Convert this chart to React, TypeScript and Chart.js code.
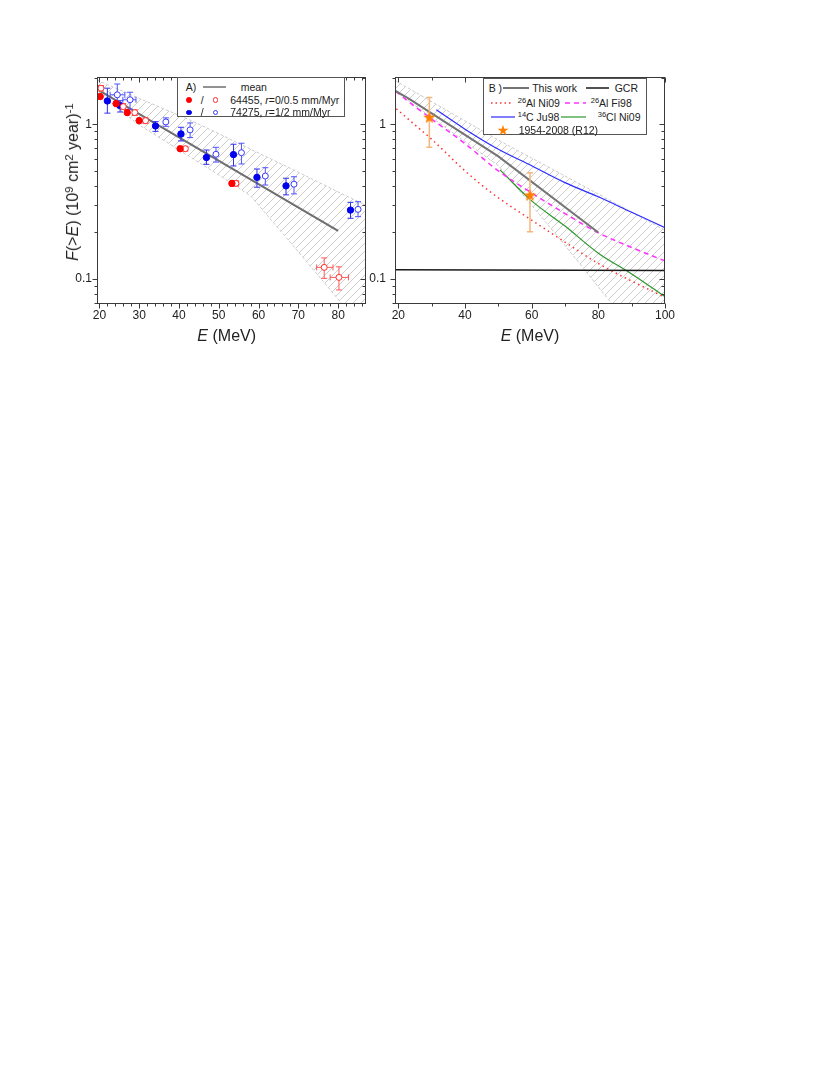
import React, { useEffect, useRef } from "react";
import { Chart, registerables } from "chart.js";
Chart.register(...registerables);

const FONT = "'Liberation Sans', Arial, Helvetica, sans-serif";

// ---------- Panel A data ----------
const A_X_TICKS = [20, 30, 40, 50, 60, 70, 80];
const A_X_MIN = 19.4;
const A_X_MAX = 87;
const Y_TICKS = [0.1, 1];
const Y_TICK_LABELS = ["0.1", "1"];
const Y_MINOR = [0.07, 0.08, 0.09, 0.2, 0.3, 0.4, 0.5, 0.6, 0.7, 0.8, 0.9, 2];
const Y_MIN = 0.069;
const Y_MAX = 2.02;

const A_MEAN_E = [20, 80];
const A_MEAN_F = [1.65, 0.205];

const A_BAND_E = [19.4, 30, 42.6, 50, 58, 70, 81, 87];
const A_BAND_UPPER = [1.93, 1.47, 1.07, 0.87, 0.69, 0.49, 0.355, 0.3];
const A_BAND_LOWER = [1.6, 0.99, 0.62, 0.47, 0.345, 0.15, 0.069, 0.045];

const A_RED_FILLED_E = [20.2, 24.2, 27.0, 30.0, 40.3, 53.3];
const A_RED_FILLED_F = [1.51, 1.36, 1.19, 1.055, 0.695, 0.415];
const A_RED_FILLED_LO = [1.45, 1.3, 1.14, 1.01, 0.67, 0.398];
const A_RED_FILLED_HI = [1.57, 1.42, 1.24, 1.1, 0.72, 0.432];

const A_RED_HOLLOW_E = [20.4, 26.0, 28.9, 31.6, 41.6, 54.3, 76.5, 80.2];
const A_RED_HOLLOW_F = [1.71, 1.3, 1.19, 1.055, 0.695, 0.415, 0.119, 0.1025];
const A_RED_HOLLOW_LO = [1.64, 1.25, 1.14, 1.01, 0.67, 0.398, 0.101, 0.085];
const A_RED_HOLLOW_HI = [1.78, 1.36, 1.24, 1.1, 0.72, 0.432, 0.137, 0.12];
const A_RED_HOLLOW_XLO = [null, null, null, null, null, 53.6, 74.6, 78.0];
const A_RED_HOLLOW_XHI = [null, null, null, null, null, 55.0, 78.7, 82.6];

const A_BLUE_FILLED_E = [22.0, 25.2, 34.1, 40.5, 46.9, 53.7, 59.6, 66.9, 83.1];
const A_BLUE_FILLED_F = [1.415, 1.32, 0.975, 0.866, 0.61, 0.637, 0.454, 0.4, 0.279];
const A_BLUE_FILLED_LO = [1.18, 1.2, 0.9, 0.78, 0.551, 0.538, 0.392, 0.35, 0.247];
const A_BLUE_FILLED_HI = [1.71, 1.42, 1.04, 0.956, 0.682, 0.743, 0.514, 0.448, 0.313];

const A_BLUE_HOLLOW_E = [24.5, 27.7, 36.7, 42.8, 49.3, 55.7, 61.7, 68.9, 85.0];
const A_BLUE_HOLLOW_F = [1.55, 1.44, 1.035, 0.92, 0.64, 0.655, 0.463, 0.41, 0.282];
const A_BLUE_HOLLOW_LO = [1.33, 1.25, 0.97, 0.82, 0.57, 0.554, 0.405, 0.355, 0.253];
const A_BLUE_HOLLOW_HI = [1.82, 1.61, 1.1, 1.02, 0.71, 0.754, 0.524, 0.458, 0.316];
const A_BLUE_HOLLOW_XLO = [22.7, 25.9, null, null, null, null, null, null, null];
const A_BLUE_HOLLOW_XHI = [26.4, 29.2, null, null, null, null, null, null, null];

// ---------- Panel B data ----------
const B_X_TICKS = [20, 40, 60, 80, 100];
const B_X_MINOR = [30, 50, 70, 90];
const B_X_MIN = 19;
const B_X_MAX = 100;

const B_BAND_E = [19, 50, 60, 70, 83, 100];
const B_BAND_UPPER = [1.92, 0.79, 0.605, 0.463, 0.327, 0.207];
const B_BAND_LOWER = [1.64, 0.54, 0.3, 0.165, 0.074, 0.027];

const B_THIS_E = [19, 23.5, 50, 80];
const B_THIS_F = [1.65, 1.45, 0.62, 0.2];

const B_GCR_E = [19, 100];
const B_GCR_F = [0.115, 0.1135];

const B_AL_NI09_E = [19.4, 25, 30, 40, 47.5, 60, 67.5, 80, 100];
const B_AL_NI09_F = [1.26, 0.99, 0.8, 0.5, 0.367, 0.24, 0.188, 0.126, 0.076];

const B_AL_FI98_E = [19.2, 25, 30, 40, 50, 60, 70, 80, 90, 100];
const B_AL_FI98_F = [1.63, 1.3, 1.08, 0.75, 0.5, 0.36, 0.265, 0.199, 0.16, 0.131];

const B_C_JU98_E = [31.4, 40, 50, 60, 70, 80, 90, 100];
const B_C_JU98_F = [1.24, 0.93, 0.69, 0.54, 0.42, 0.34, 0.27, 0.215];

const B_CL_NI09_E = [50.5, 60, 70, 80, 90, 100];
const B_CL_NI09_F = [0.507, 0.32, 0.22, 0.147, 0.108, 0.077];

const B_R12_E = [29.3, 59.5];
const B_R12_F = [1.11, 0.349];
const B_R12_LO = [0.71, 0.202];
const B_R12_HI = [1.49, 0.487];

// ---------- helpers ----------
const pts = (xs: number[], ys: number[]) => xs.map((x, i) => ({ x, y: ys[i] }));

function makeHatch(): CanvasPattern | string {
  const c = document.createElement("canvas");
  c.width = 8;
  c.height = 8;
  const g = c.getContext("2d");
  if (!g) return "rgba(0,0,0,0.1)";
  g.strokeStyle = "#cdcdcd";
  g.lineWidth = 1;
  g.beginPath();
  g.moveTo(0, 8);
  g.lineTo(8, 0);
  g.moveTo(-2, 2);
  g.lineTo(2, -2);
  g.moveTo(6, 10);
  g.lineTo(10, 6);
  g.stroke();
  return g.createPattern(c, "repeat") || "rgba(0,0,0,0.1)";
}

function makeStar(size: number, color: string): HTMLCanvasElement {
  const c = document.createElement("canvas");
  c.width = size;
  c.height = size;
  const g = c.getContext("2d");
  if (g) {
    const cx = size / 2, cy = size / 2 + 0.5;
    const R = size / 2, r = R * 0.42;
    g.fillStyle = color;
    g.beginPath();
    for (let i = 0; i < 10; i++) {
      const ang = -Math.PI / 2 + (i * Math.PI) / 5;
      const rad = i % 2 === 0 ? R : r;
      const px = cx + rad * Math.cos(ang);
      const py = cy + rad * Math.sin(ang);
      if (i === 0) g.moveTo(px, py);
      else g.lineTo(px, py);
    }
    g.closePath();
    g.fill();
  }
  return c;
}

type ErrGroup = {
  x: number[];
  y: number[];
  yLo?: (number | null)[];
  yHi?: (number | null)[];
  xLo?: (number | null)[];
  xHi?: (number | null)[];
  color: string;
  width: number;
  cap: number;
};

function errorBarPlugin(groups: ErrGroup[], beforeIndex: number) {
  return {
    id: "errbars",
    beforeDatasetDraw(chart: any, args: any) {
      if (args.index !== beforeIndex) return;
      const { ctx, scales, chartArea: a } = chart;
      ctx.save();
      ctx.beginPath();
      ctx.rect(a.left, a.top, a.right - a.left, a.bottom - a.top);
      ctx.clip();
      for (const g of groups) {
        ctx.strokeStyle = g.color;
        ctx.lineWidth = g.width;
        for (let i = 0; i < g.x.length; i++) {
          const px = scales.x.getPixelForValue(g.x[i]);
          const py = scales.y.getPixelForValue(g.y[i]);
          ctx.beginPath();
          if (g.yLo && g.yHi && g.yLo[i] != null && g.yHi[i] != null) {
            const p1 = scales.y.getPixelForValue(g.yLo[i]);
            const p2 = scales.y.getPixelForValue(g.yHi[i]);
            ctx.moveTo(px, p1);
            ctx.lineTo(px, p2);
            ctx.moveTo(px - g.cap, p1);
            ctx.lineTo(px + g.cap, p1);
            ctx.moveTo(px - g.cap, p2);
            ctx.lineTo(px + g.cap, p2);
          }
          if (g.xLo && g.xHi && g.xLo[i] != null && g.xHi[i] != null) {
            const q1 = scales.x.getPixelForValue(g.xLo[i]);
            const q2 = scales.x.getPixelForValue(g.xHi[i]);
            ctx.moveTo(q1, py);
            ctx.lineTo(q2, py);
            ctx.moveTo(q1, py - g.cap);
            ctx.lineTo(q1, py + g.cap);
            ctx.moveTo(q2, py - g.cap);
            ctx.lineTo(q2, py + g.cap);
          }
          ctx.stroke();
        }
      }
      ctx.restore();
    },
  };
}

function framePlugin(xMajor: number[], xMinor: number[], yMajor: number[], yMinor: number[]) {
  return {
    id: "frameTicks",
    afterDraw(chart: any) {
      const { ctx, scales, chartArea: a } = chart;
      ctx.save();
      ctx.strokeStyle = "#3a3a3a";
      ctx.lineWidth = 1;
      const L = Math.round(a.left) + 0.5;
      const R = Math.round(a.right) - 0.5;
      const T = Math.round(a.top) + 0.5;
      const B = Math.round(a.bottom) - 0.5;
      ctx.strokeRect(L, T, R - L, B - T);
      ctx.beginPath();
      const xt = (v: number, len: number) => {
        const p = Math.round(scales.x.getPixelForValue(v)) + 0.5;
        ctx.moveTo(p, B);
        ctx.lineTo(p, B + len);
        ctx.moveTo(p, T);
        ctx.lineTo(p, T + len);
      };
      const yt = (v: number, len: number) => {
        const p = Math.round(scales.y.getPixelForValue(v)) + 0.5;
        ctx.moveTo(L, p);
        ctx.lineTo(L - len, p);
        ctx.moveTo(R, p);
        ctx.lineTo(R - len, p);
      };
      xMajor.forEach((v) => xt(v, 5));
      xMinor.forEach((v) => xt(v, 3));
      yMajor.forEach((v) => yt(v, 5));
      yMinor.forEach((v) => yt(v, 3));
      ctx.stroke();
      ctx.restore();
    },
  };
}

function minorTicks(min: number, max: number, step: number, major: number[]) {
  const out: number[] = [];
  for (let v = Math.ceil(min / step) * step; v <= max + 1e-9; v += step) {
    if (!major.some((m) => Math.abs(m - v) < 1e-6)) out.push(v);
  }
  return out;
}

function baseScales(xMin: number, xMax: number, xTicks: number[], yWidth: number, yPad: number) {
  return {
    x: {
      type: "linear",
      min: xMin,
      max: xMax,
      afterBuildTicks: (s: any) => {
        s.ticks = xTicks.map((v) => ({ value: v }));
      },
      afterFit: (s: any) => {
        s.height = 26;
      },
      ticks: {
        callback: (v: any) => String(v),
        font: { family: FONT, size: 12 },
        color: "#222",
        padding: 4,
        maxRotation: 0,
        autoSkip: false,
      },
      grid: { display: false, drawTicks: false },
      border: { display: false },
    },
    y: {
      type: "logarithmic",
      min: Y_MIN,
      max: Y_MAX,
      afterBuildTicks: (s: any) => {
        s.ticks = Y_TICKS.map((v) => ({ value: v }));
      },
      afterFit: (s: any) => {
        s.width = yWidth;
      },
      ticks: {
        callback: (_v: any, i: number) => Y_TICK_LABELS[i],
        font: { family: FONT, size: 12 },
        color: "#222",
        padding: yPad,
        autoSkip: false,
      },
      grid: { display: false, drawTicks: false },
      border: { display: false },
    },
  };
}

const hatchBand = (xs: number[], up: number[], lo: number[], pattern: any) => [
  {
    data: pts(xs, up),
    borderColor: "#cbcbcb",
    borderWidth: 1,
    borderDash: [3, 2],
    pointRadius: 0,
    fill: "+1",
    backgroundColor: pattern,
  },
  {
    data: pts(xs, lo),
    borderColor: "#cbcbcb",
    borderWidth: 1,
    borderDash: [3, 2],
    pointRadius: 0,
    fill: false,
  },
];

function PanelA() {
  const ref = useRef<HTMLCanvasElement | null>(null);
  useEffect(() => {
    if (!ref.current) return;
    const pattern = makeHatch();
    const filled = (xs: number[], ys: number[], c: string) => ({
      data: pts(xs, ys),
      showLine: false,
      pointRadius: 3.2,
      pointBackgroundColor: c,
      pointBorderColor: c,
      pointBorderWidth: 1,
      borderColor: c,
    });
    const hollow = (xs: number[], ys: number[], c: string) => ({
      data: pts(xs, ys),
      showLine: false,
      pointRadius: 3,
      pointBackgroundColor: "#ffffff",
      pointBorderColor: c,
      pointBorderWidth: 1,
      borderColor: c,
    });
    const chart = new Chart(ref.current, {
      type: "line",
      data: {
        datasets: [
          filled(A_RED_FILLED_E, A_RED_FILLED_F, "#ff0000"),
          hollow(A_RED_HOLLOW_E, A_RED_HOLLOW_F, "#ff2a2a"),
          filled(A_BLUE_FILLED_E, A_BLUE_FILLED_F, "#0000ee"),
          hollow(A_BLUE_HOLLOW_E, A_BLUE_HOLLOW_F, "#3a3aff"),
          {
            data: pts(A_MEAN_E, A_MEAN_F),
            borderColor: "#6e6e6e",
            borderWidth: 2,
            pointRadius: 0,
            fill: false,
          },
          ...hatchBand(A_BAND_E, A_BAND_UPPER, A_BAND_LOWER, pattern),
        ] as any,
      },
      options: {
        animation: false,
        responsive: false,
        events: [],
        layout: { padding: { top: 17, right: 3, left: 0, bottom: 0 } },
        plugins: { legend: { display: false }, tooltip: { enabled: false } },
        scales: baseScales(A_X_MIN, A_X_MAX, A_X_TICKS, 37, 5) as any,
      },
      plugins: [
        errorBarPlugin(
          [
            { x: A_RED_FILLED_E, y: A_RED_FILLED_F, yLo: A_RED_FILLED_LO, yHi: A_RED_FILLED_HI, color: "#ff5a5a", width: 1, cap: 2 },
            { x: A_RED_HOLLOW_E, y: A_RED_HOLLOW_F, yLo: A_RED_HOLLOW_LO, yHi: A_RED_HOLLOW_HI, xLo: A_RED_HOLLOW_XLO, xHi: A_RED_HOLLOW_XHI, color: "#ff5a5a", width: 1, cap: 3 },
            { x: A_BLUE_FILLED_E, y: A_BLUE_FILLED_F, yLo: A_BLUE_FILLED_LO, yHi: A_BLUE_FILLED_HI, color: "#3030ee", width: 1, cap: 3 },
            { x: A_BLUE_HOLLOW_E, y: A_BLUE_HOLLOW_F, yLo: A_BLUE_HOLLOW_LO, yHi: A_BLUE_HOLLOW_HI, xLo: A_BLUE_HOLLOW_XLO, xHi: A_BLUE_HOLLOW_XHI, color: "#5050ff", width: 1, cap: 3 },
          ],
          3
        ),
        framePlugin(A_X_TICKS, minorTicks(A_X_MIN, A_X_MAX, 2, A_X_TICKS), Y_TICKS, Y_MINOR),
      ] as any,
    } as any);
    return () => chart.destroy();
  }, []);
  return <canvas ref={ref} width={311} height={270} style={{ position: "absolute", left: 52, top: 52 }} />;
}

function PanelB() {
  const ref = useRef<HTMLCanvasElement | null>(null);
  useEffect(() => {
    if (!ref.current) return;
    const pattern = makeHatch();
    const star = makeStar(13, "#ff8000");
    const line = (xs: number[], ys: number[], c: string, w: number, dash: number[] = [], tension = 0) => ({
      data: pts(xs, ys),
      borderColor: c,
      borderWidth: w,
      borderDash: dash,
      pointRadius: 0,
      fill: false,
      tension,
      cubicInterpolationMode: tension ? "monotone" : "default",
    });
    const chart = new Chart(ref.current, {
      type: "line",
      data: {
        datasets: [
          {
            data: pts(B_R12_E, B_R12_F),
            showLine: false,
            pointStyle: star,
            pointRadius: 6,
            borderColor: "#ff8000",
          },
          line(B_THIS_E, B_THIS_F, "#747474", 2),
          line(B_GCR_E, B_GCR_F, "#1a1a1a", 1.5),
          line(B_AL_NI09_E, B_AL_NI09_F, "#ff3030", 1.5, [1.5, 3.5], 0.3),
          line(B_AL_FI98_E, B_AL_FI98_F, "#ff30ff", 1.5, [5, 4], 0.3),
          line(B_C_JU98_E, B_C_JU98_F, "#2b2bff", 1.2, [], 0.3),
          line(B_CL_NI09_E, B_CL_NI09_F, "#2a962a", 1.2, [], 0.3),
          ...hatchBand(B_BAND_E, B_BAND_UPPER, B_BAND_LOWER, pattern),
        ] as any,
      },
      options: {
        animation: false,
        responsive: false,
        events: [],
        layout: { padding: { top: 17, right: 15, left: 0, bottom: 0 } },
        plugins: { legend: { display: false }, tooltip: { enabled: false } },
        scales: baseScales(B_X_MIN, B_X_MAX, B_X_TICKS, 35, 9) as any,
      },
      plugins: [
        errorBarPlugin(
          [{ x: B_R12_E, y: B_R12_F, yLo: B_R12_LO, yHi: B_R12_HI, color: "#f7b679", width: 1.5, cap: 3 }],
          0
        ),
        framePlugin(B_X_TICKS, B_X_MINOR, Y_TICKS, Y_MINOR),
      ] as any,
    } as any);
    return () => chart.destroy();
  }, []);
  return <canvas ref={ref} width={320} height={270} style={{ position: "absolute", left: 352, top: 52 }} />;
}

const LFS = 10.5;
const txt: React.CSSProperties = {
  position: "absolute",
  fontFamily: FONT,
  fontSize: LFS,
  color: "#222",
  whiteSpace: "nowrap",
  lineHeight: "13px",
  transform: "translateY(-50%)",
};
const sup: React.CSSProperties = { fontSize: "0.72em", verticalAlign: "0.45em", lineHeight: 0 };

function Seg({ left, top, width, color, w = 1.5, dash }: { left: number; top: number; width: number; color: string; w?: number; dash?: string }) {
  return (
    <svg style={{ position: "absolute", left, top: top - 3, overflow: "visible" }} width={width} height={6}>
      <line x1={0} y1={3} x2={width} y2={3} stroke={color} strokeWidth={w} strokeDasharray={dash} />
    </svg>
  );
}

function Dot({ cx, cy, color, hollow }: { cx: number; cy: number; color: string; hollow?: boolean }) {
  const r = hollow ? 2.6 : 2.8;
  return (
    <div
      style={{
        position: "absolute",
        left: cx - r,
        top: cy - r,
        width: r * 2,
        height: r * 2,
        boxSizing: "border-box",
        borderRadius: "50%",
        background: hollow ? "#fff" : color,
        border: `1px solid ${color}`,
      }}
    />
  );
}

function LegendA() {
  return (
    <div style={{ position: "absolute", left: 168.7, top: 69, width: 168, height: 40, border: "1px solid #555", boxSizing: "border-box", background: "#fff" }}>
      <span style={{ ...txt, left: 8, top: 9 }}>A)</span>
      <Seg left={25} top={9} width={23} color="#6e6e6e" w={1.5} />
      <span style={{ ...txt, left: 63, top: 9 }}>mean</span>
      <Dot cx={11.6} cy={22} color="#ff0000" />
      <span style={{ ...txt, left: 23, top: 22 }}>/</span>
      <Dot cx={37.6} cy={22} color="#ff2a2a" hollow />
      <span style={{ ...txt, left: 52.6, top: 22 }}>
        64455, <i>r</i>=0/0.5 mm/Myr
      </span>
      <Dot cx={11.6} cy={34.3} color="#0000ee" />
      <span style={{ ...txt, left: 23, top: 34.3 }}>/</span>
      <Dot cx={37.6} cy={34.3} color="#3a3aff" hollow />
      <span style={{ ...txt, left: 52.6, top: 34.3 }}>
        74275, <i>r</i>=1/2 mm/Myr
      </span>
    </div>
  );
}

function LegendB() {
  return (
    <div style={{ position: "absolute", left: 474.7, top: 70, width: 164, height: 57, border: "1px solid #555", boxSizing: "border-box", background: "#fff" }}>
      <span style={{ ...txt, left: 5, top: 8.5 }}>B )</span>
      <Seg left={19.5} top={8.5} width={26} color="#747474" w={2} />
      <span style={{ ...txt, left: 48.5, top: 8.5 }}>This work</span>
      <Seg left={102} top={8.5} width={23} color="#1a1a1a" w={1.5} />
      <span style={{ ...txt, left: 131, top: 8.5 }}>GCR</span>

      <Seg left={7} top={23.5} width={22} color="#ff3030" w={1.5} dash="1.5 3" />
      <span style={{ ...txt, left: 34, top: 23.5 }}>
        <sup style={sup}>26</sup>Al Ni09
      </span>
      <Seg left={81} top={23.5} width={21} color="#ff30ff" w={1.5} dash="5 4" />
      <span style={{ ...txt, left: 107, top: 23.5 }}>
        <sup style={sup}>26</sup>Al Fi98
      </span>

      <Seg left={7} top={37.5} width={24} color="#2b2bff" w={1.2} />
      <span style={{ ...txt, left: 34, top: 37.5 }}>
        <sup style={sup}>14</sup>C Ju98
      </span>
      <Seg left={77} top={37.5} width={25} color="#2a962a" w={1.2} />
      <span style={{ ...txt, left: 114, top: 37.5 }}>
        <sup style={sup}>36</sup>Cl Ni09
      </span>

      <span style={{ ...txt, left: 13, top: 51, color: "#ff8000", fontFamily: "'DejaVu Sans', sans-serif", fontSize: 14 }}>★</span>
      <span style={{ ...txt, left: 35, top: 51 }}>1954-2008 (R12)</span>
    </div>
  );
}

const title: React.CSSProperties = {
  position: "absolute",
  fontFamily: FONT,
  fontSize: 16,
  color: "#222",
  whiteSpace: "nowrap",
  lineHeight: "18px",
};

export default function App() {
  return (
    <div style={{ position: "relative", width: 814, height: 1059 }}>
      <PanelA />
      <PanelB />
      <LegendA />
      <LegendB />
      <div style={{ ...title, left: 218.7, top: 328, transform: "translate(-50%, -50%)" }}>
        <i>E</i> (MeV)
      </div>
      <div style={{ ...title, left: 522, top: 328, transform: "translate(-50%, -50%)" }}>
        <i>E</i> (MeV)
      </div>
      <div style={{ ...title, left: 65.3, top: 173.7, transform: "translate(-50%, -50%) rotate(-90deg)" }}>
        <i>F</i>(&gt;<i>E</i>) (10<sup style={sup}>9</sup> cm<sup style={sup}>2</sup> year)<sup style={sup}>-1</sup>
      </div>
    </div>
  );
}
